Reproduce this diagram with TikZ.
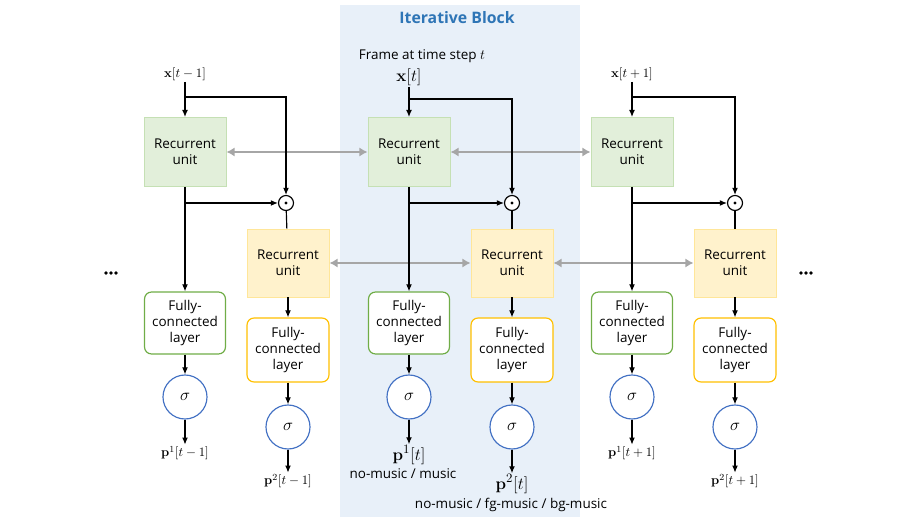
\documentclass[tikz,border=0pt]{standalone}
\usepackage[no-math]{fontspec}
\setmainfont{Open Sans}
\usepackage{amsmath}
\usetikzlibrary{arrows.meta}
\definecolor{blockbg}{RGB}{232,240,249}
\definecolor{blocktitle}{RGB}{46,117,182}
\definecolor{rugreen}{RGB}{226,239,218}
\definecolor{rugreenline}{RGB}{197,224,180}
\definecolor{fcgreen}{RGB}{112,173,71}
\definecolor{ruyellow}{RGB}{255,242,204}
\definecolor{ruyellowline}{RGB}{255,230,153}
\definecolor{fcyellow}{RGB}{255,192,0}
\definecolor{sigblue}{RGB}{68,114,196}
\definecolor{linkgray}{RGB}{166,166,166}
\tikzset{
    txt/.style={font=\fontsize{11.5}{13.5}\selectfont, align=center},
    rugreen/.style={txt, draw=rugreenline, fill=rugreen, line width=.8pt, minimum width=82*0.03cm, minimum height=69*0.03cm, inner sep=0pt},
    ruyellow/.style={txt, draw=ruyellowline, fill=ruyellow, line width=.8pt, minimum width=82*0.03cm, minimum height=68*0.03cm, inner sep=0pt},
    fcgreen/.style={txt, draw=fcgreen, fill=white, rounded corners=6pt, line width=1pt, minimum width=81*0.03cm, minimum height=62*0.03cm, inner sep=0pt},
    fcyellow/.style={txt, draw=fcyellow, fill=white, rounded corners=6pt, line width=1pt, minimum width=82*0.03cm, minimum height=64*0.03cm, inner sep=0pt},
    sig/.style={circle, draw=sigblue, fill=white, line width=1pt, minimum size=44*0.03cm, inner sep=0pt, font=\fontsize{15}{16}\selectfont},
    odot/.style={circle, draw, fill=white, line width=1pt, minimum size=15*0.03cm, inner sep=0pt},
    arr/.style={-{Latex[length=6pt,width=5pt]}, line width=1pt},
    link/.style={{Latex[length=7pt,width=8pt]}-{Latex[length=7pt,width=8pt]}, linkgray, line width=2pt},
    lab/.style={font=\fontsize{11}{12}\selectfont, inner sep=1pt},
    biglab/.style={font=\fontsize{15}{16}\selectfont, inner sep=1pt}
}
\begin{document}
\begin{tikzpicture}[x=0.03cm, y=-0.03cm]
    \useasboundingbox (0,0) rectangle (918,517);
    \fill[blockbg] (340,5) rectangle (580,517);
    \node[font=\fontsize{13.5}{15}\selectfont\bfseries, text=blocktitle] (title) at (457,18) {Iterative Block};

    % column t-1
    \node[lab] (x1) at (185,74) {$\mathbf{x}[t-1]$};
    \node[rugreen] (rg1) at (185,152) {Recurrent\\unit};
    \node[odot] (dot1) at (286,203) {};
        \fill (dot1) circle (1.3pt);
    \node[ruyellow] (ry1) at (288,263) {Recurrent\\unit};
    \node[fcgreen] (fg1) at (185,323) {Fully-\\connected\\layer};
    \node[fcyellow] (fy1) at (288,350) {Fully-\\connected\\layer};
    \node[sig] (sg1) at (185,397) {$\sigma$};
    \node[sig] (sy1) at (288,427) {$\sigma$};
    \node[lab] (pa1) at (185,453) {$\mathbf{p}^1[t-1]$};
    \node[lab] (pb1) at (288,481) {$\mathbf{p}^2[t-1]$};

    % column t
    \node[txt] (frame) at (422,56) {Frame at time step $t$};
    \node[biglab] (x2) at (409,77) {$\mathbf{x}[t]$};
    \node[rugreen] (rg2) at (409,152) {Recurrent\\unit};
    \node[odot] (dot2) at (512,203) {};
        \fill (dot2) circle (1.3pt);
    \node[ruyellow] (ry2) at (512,263) {Recurrent\\unit};
    \node[fcgreen] (fg2) at (409,323) {Fully-\\connected\\layer};
    \node[fcyellow] (fy2) at (512,350) {Fully-\\connected\\layer};
    \node[sig] (sg2) at (409,397) {$\sigma$};
    \node[sig] (sy2) at (512,427) {$\sigma$};
    \node[biglab] (pa2) at (409,455) {$\mathbf{p}^1[t]$};
    \node[txt] (ca2) at (403,474) {no-music / music};
    \node[biglab] (pb2) at (512,484) {$\mathbf{p}^2[t]$};
    \node[txt] (cb2) at (511,505) {no-music / fg-music / bg-music};

    % column t+1
    \node[lab] (x3) at (632,74) {$\mathbf{x}[t+1]$};
    \node[rugreen] (rg3) at (632,152) {Recurrent\\unit};
    \node[odot] (dot3) at (735,203) {};
        \fill (dot3) circle (1.3pt);
    \node[ruyellow] (ry3) at (735,263) {Recurrent\\unit};
    \node[fcgreen] (fg3) at (632,323) {Fully-\\connected\\layer};
    \node[fcyellow] (fy3) at (735,350) {Fully-\\connected\\layer};
    \node[sig] (sg3) at (632,397) {$\sigma$};
    \node[sig] (sy3) at (735,427) {$\sigma$};
    \node[lab] (pa3) at (632,453) {$\mathbf{p}^1[t+1]$};
    \node[lab] (pb3) at (735,481) {$\mathbf{p}^2[t+1]$};

    % dots
    \coordinate (dl) at (111,273);
    \coordinate (dr) at (806,273);
    \fill (dl) ++(-5,0) circle (1.6pt) ++(5,0) circle (1.6pt) ++(5,0) circle (1.6pt);
    \fill (dr) ++(-5,0) circle (1.6pt) ++(5,0) circle (1.6pt) ++(5,0) circle (1.6pt);

    % links between steps
    \draw[link] (rg1) -- (rg2);
    \draw[link] (rg2) -- (rg3);
    \draw[link] (ry1) -- (ry2);
    \draw[link] (ry2) -- (ry3);

    % t-1
    \coordinate (b1) at (185,97);
    \coordinate (c1) at (185,203);
    \draw[arr] (x1) -- (rg1);
    \draw[arr] (b1) -| (dot1);
    \draw[arr] (c1) -- (dot1);
    \draw[line width=1pt] (dot1) -- (ry1);
    \draw[arr] (rg1) -- (fg1);
    \draw[arr] (ry1) -- (fy1);
    \draw[arr] (fg1) -- (sg1);
    \draw[arr] (fy1) -- (sy1);
    \draw[arr] (sg1) -- (pa1);
    \draw[arr] (sy1) -- (pb1);

    % t
    \coordinate (b2) at (409,99);
    \coordinate (c2) at (409,203);
    \draw[arr] (x2) -- (rg2);
    \draw[arr] (b2) -| (dot2);
    \draw[arr] (c2) -- (dot2);
    \draw[line width=1pt] (dot2) -- (ry2);
    \draw[arr] (rg2) -- (fg2);
    \draw[arr] (ry2) -- (fy2);
    \draw[arr] (fg2) -- (sg2);
    \draw[arr] (fy2) -- (sy2);
    \draw[arr] (sg2) -- (pa2);
    \draw[arr] (sy2) -- (pb2);

    % t+1
    \coordinate (b3) at (632,97);
    \coordinate (c3) at (632,203);
    \draw[arr] (x3) -- (rg3);
    \draw[arr] (b3) -| (dot3);
    \draw[arr] (c3) -- (dot3);
    \draw[line width=1pt] (dot3) -- (ry3);
    \draw[arr] (rg3) -- (fg3);
    \draw[arr] (ry3) -- (fy3);
    \draw[arr] (fg3) -- (sg3);
    \draw[arr] (fy3) -- (sy3);
    \draw[arr] (sg3) -- (pa3);
    \draw[arr] (sy3) -- (pb3);
\end{tikzpicture}
\end{document}
